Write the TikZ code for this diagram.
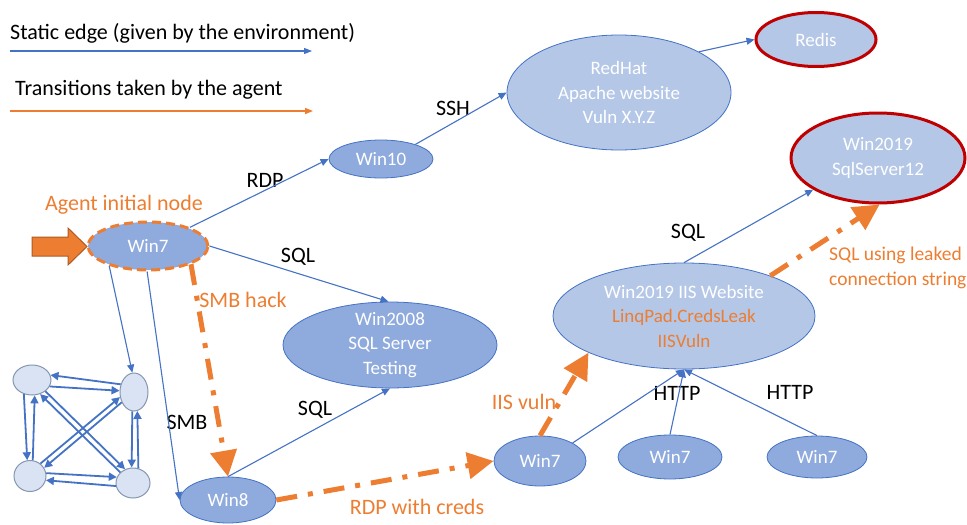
\documentclass[tikz,border=0pt]{standalone}
\usepackage{fontspec}
\setmainfont{Carlito}
\usetikzlibrary{arrows.meta,shapes.geometric}
\definecolor{eblue}{HTML}{4472C4}
\definecolor{ndark}{HTML}{8FAADC}
\definecolor{nlight}{HTML}{B4C7E7}
\definecolor{ered}{HTML}{C00000}
\definecolor{eorange}{HTML}{ED7D31}
\definecolor{oborder}{HTML}{AE5A21}
\definecolor{sfill}{HTML}{DAE3F3}
\definecolor{sborder}{HTML}{8497B0}
\begin{document}
\begin{tikzpicture}[x=1pt,y=-1pt,
  every node/.style={font=\fontsize{19}{24.5}\selectfont},
  ov/.style 2 args={ellipse, inner sep=0pt, align=center, text=white, minimum width=#1, minimum height=#2},
  dk/.style={fill=ndark, draw=eblue, line width=0.8pt},
  lt/.style={fill=nlight, draw=eblue, line width=0.8pt},
  rd/.style={fill=nlight, draw=ered, line width=3pt},
  sm/.style={fill=sfill, draw=sborder, line width=1pt, ellipse, inner sep=0pt},
  lab/.style={text=black, inner sep=1pt, font=\fontsize{22}{26}\selectfont},
  olab/.style={text=eorange, inner sep=1pt, font=\fontsize{22}{26}\selectfont},
  bedge/.style={draw=eblue, line width=1.1pt, -{Triangle[length=8pt,width=7pt]}},
  sedge/.style={draw=eblue, line width=1.8pt, -{Triangle[length=8pt,width=8pt]}},
  oedge/.style={draw=eorange, line width=5pt, dash pattern=on 21pt off 11pt on 5pt off 11pt, -{Triangle[length=26pt,width=26pt]}},
]
\useasboundingbox (0,0) rectangle (967,525);

% legend
\node[anchor=west, inner sep=0pt, font=\fontsize{22}{26}\selectfont] (leg1) at (10,33) {Static edge (given by the environment)};
\coordinate (l1a) at (10,51); \coordinate (l1b) at (312,51);
\draw[draw=eblue, line width=1.2pt, -{Triangle[length=8pt,width=6pt]}] (l1a) -- (l1b);
\node[anchor=west, inner sep=0pt, font=\fontsize{22}{26}\selectfont] (leg2) at (15,90) {Transitions taken by the agent};
\coordinate (l2a) at (10,111); \coordinate (l2b) at (313,111);
\draw[draw=eorange, line width=1.5pt, -{Triangle[length=8pt,width=6pt]}] (l2a) -- (l2b);

% main nodes
\node[ov={120}{48}, dk, draw=eorange, line width=3pt, dash pattern=on 9pt off 5pt] (w7i) at (148,246) {Win7};
\node[ov={104}{38}, dk] (win10) at (381,159) {Win10};
\node[ov={224}{115}, lt] (redhat) at (619,92.5) {RedHat\\Apache website\\Vuln X.Y.Z};
\node[ov={120}{54}, rd] (redis) at (816,39.5) {Redis};
\node[ov={174}{90}, rd] (sql12) at (878,158) {Win2019\\SqlServer12};
\node[ov={214}{86}, dk, inner ysep=-8pt] (w2008) at (390,345) {Win2008\\SQL Server\\Testing};
\node[ov={262}{106}, lt, inner ysep=-6pt] (iis) at (684,316) {Win2019 IIS Website\\\textcolor{eorange}{LinqPad.CredsLeak}\\\textcolor{eorange}{IISVuln}};
\node[ov={96}{46}, dk] (win8) at (228,500) {Win8};
\node[ov={92}{50}, dk] (w7a) at (540,461) {Win7};
\node[ov={104}{44}, dk] (w7b) at (670,457) {Win7};
\node[ov={100}{42}, dk] (w7c) at (817,457) {Win7};

% small graph
\node[sm, minimum width=38, minimum height=30] (tl) at (32,380) {};
\node[sm, minimum width=28, minimum height=38] (tr) at (134,392) {};
\node[sm, minimum width=32, minimum height=31] (bl) at (30,476) {};
\node[sm, minimum width=34, minimum height=30] (br) at (133,483) {};

% block arrow into the initial node
\draw[fill=eorange, draw=oborder, line width=1pt] (32,237) -- (68,237) -- (68,228) -- (87,246.5) -- (68,265) -- (68,256) -- (32,256) -- cycle;

% labels
\node[lab] (lrdp) at (265,180) {RDP};
\node[lab] (lssh) at (453,108) {SSH};
\node[lab] (lsql1) at (298,257) {SQL};
\node[lab] (lsmb) at (187,422) {SMB};
\node[lab] (lsql2) at (315,410) {SQL};
\node[lab] (lsql3) at (688,233) {SQL};
\node[lab] (lhttp1) at (677,393) {HTTP};
\node[lab] (lhttp2) at (790,392) {HTTP};
\node[olab] (lagent) at (124,205) {Agent initial node};
\node[olab] (lsmbh) at (243,300) {SMB hack};
\node[olab] (lrdpc) at (417,507) {RDP with creds};
\node[olab] (liis) at (524,402) {IIS vuln};
\node[olab, font=\fontsize{19.5}{25}\selectfont, align=left, anchor=west] (lleak) at (828,267.5) {SQL using leaked\\connection string};

% static edges
\draw[bedge] (w7i.24) -- (win10.west);
\draw[bedge] (win10.23) -- (redhat.180);
\draw[bedge] (redhat.27) -- (redis.west);
\draw[bedge] (w7i.east) -- (w2008.92);
\draw[bedge] (w7i.268) -- (win8.west);
\draw[bedge] (w7i.207) -- (tr.95);
\draw[bedge] (win8.north) -- (w2008.south);
\draw[bedge] (w7a.29) -- (iis.south);
\draw[bedge] (w7b.north) -- (iis.south);
\draw[bedge] (w7c.north) -- (iis.south);
\draw[bedge] (iis.north) -- (sql12.206);

% small graph edges
\draw[sedge] (tr.150) -- (tl.15);
\draw[sedge] (tl.-20) -- (tr.175);
\draw[sedge] (tl.240) -- (bl.100);
\draw[sedge] (bl.80) -- (tl.280);
\draw[sedge] (tr.265) -- (br.95);
\draw[sedge] (br.70) -- (tr.-80);
\draw[sedge] (bl.10) -- (br.160);
\draw[sedge] (br.190) -- (bl.-15);
\draw[sedge] (tl.-40) -- (br.120);
\draw[sedge] (br.140) -- (tl.-60);
\draw[sedge] (tr.220) -- (bl.30);
\draw[sedge] (bl.50) -- (tr.200);

% agent transitions
\draw[oedge] (w7i.337) -- (win8.north);
\draw[oedge] (win8.east) -- (w7a.west);
\draw[oedge] (w7a.north) -- (iis.201);
\draw[oedge] (iis.25) -- (sql12.272);
\end{tikzpicture}
\end{document}
